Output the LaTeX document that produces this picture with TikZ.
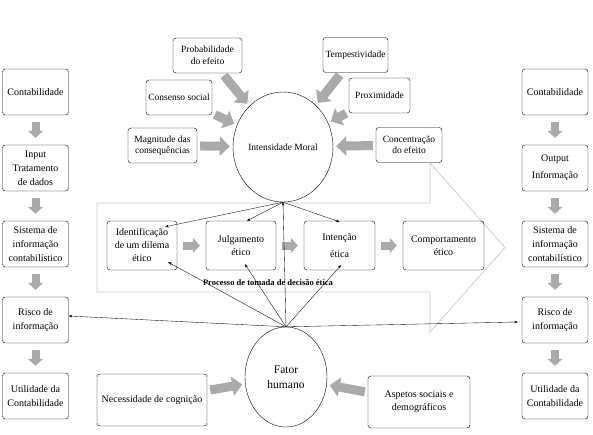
\documentclass[tikz,border=0pt]{standalone}
\usepackage{fontspec}
\setmainfont{Liberation Serif}
\usetikzlibrary{shapes.geometric,arrows.meta}
\definecolor{fatgrey}{RGB}{170,170,170}
\definecolor{frame}{RGB}{205,205,205}
\begin{document}
\begin{tikzpicture}[x=1pt, y=1pt, node distance=76pt,
  box/.style={rectangle, draw, rounded corners=3pt, align=center, minimum width=66pt, minimum height=46pt, inner sep=1pt, font=\fontsize{10}{14}\selectfont},
  top box/.style={box, minimum height=35pt, font=\fontsize{9.5}{11.5}\selectfont},
  mid box/.style={box, minimum width=70pt, minimum height=49pt, font=\fontsize{10}{13}\selectfont},
  oval/.style={ellipse, draw, inner sep=0pt, align=center},
  fat/.style={draw=fatgrey, line width=9pt, -{Triangle[length=10pt,width=19pt]}, shorten <=3pt, shorten >=3pt},
  step fat/.style={draw=fatgrey, line width=8pt, -{Triangle[length=7pt,width=15pt]}, shorten <=7pt, shorten >=7pt},
  link/.style={-{Stealth[length=3.5pt,width=2.6pt]}, line width=0.35pt}]
  \useasboundingbox (0,0) rectangle (593,434);

  \draw[frame, line width=0.8pt] (97,231) -- (430,231) -- (430,271) -- (505,186.5) -- (430,102) -- (430,142) -- (97,142) -- cycle;

  \node[box] (l1) at (35.5,342) {Contabilidade};
  \node[box] (l2) [below of=l1] {Input\\Tratamento\\de dados};
  \node[box] (l3) [below of=l2] {Sistema de\\informação\\contabilístico};
  \node[box] (l4) [below of=l3] {Risco de\\informação};
  \node[box] (l5) [below of=l4] {Utilidade da\\Contabilidade};

  \node[box] (r1) at (555,342) {Contabilidade};
  \node[box] (r2) [below of=r1] {Output\\[3pt]Informação};
  \node[box] (r3) [below of=r2] {Sistema de\\informação\\contabilístico};
  \node[box] (r4) [below of=r3] {Risco de\\informação};
  \node[box] (r5) [below of=r4] {Utilidade da\\Contabilidade};

  \node[oval, minimum width=100pt, minimum height=110pt, font=\fontsize{9.5}{11}\selectfont] (moral) at (283,287) {Intensidade Moral};
  \node[top box, minimum width=69pt] (prob) at (207.5,378.5) {Probabilidade\\do efeito};
  \node[top box, minimum width=65pt] (tempo) at (355.5,379) {Tempestividade};
  \node[top box, minimum width=66pt] (cons) at (179,336.5) {Consenso social};
  \node[top box, minimum width=61pt] (prox) at (379.5,338.5) {Proximidade};
  \node[top box, minimum width=69pt] (magn) at (162.5,288.5) {Magnitude das\\consequências};
  \node[top box, minimum width=66pt] (conc) at (409,289) {Concentração\\do efeito};

  \node[mid box] (ident) at (142,188.5) {Identificação\\de um dilema\\ético};
  \node[mid box] (julg) at (241,188.5) {Julgamento\\ético};
  \node[mid box, minimum width=71pt] (inten) at (339.5,188.5) {Intenção\\[4pt]ética};
  \node[mid box, minimum width=81pt] (comp) at (443.5,188.5) {Comportamento\\ético};
  \node[font=\bfseries\fontsize{8.5}{10}\selectfont] (proc) at (268,151) {Processo de tomada de decisão ética};

  \node[oval, minimum width=82pt, minimum height=100pt, font=\fontsize{11.5}{15}\selectfont] (fator) at (286,57) {Fator\\humano};
  \node[box, minimum width=110pt, minimum height=52pt] (cogn) at (152,34) {Necessidade de cognição};
  \node[box, minimum width=102pt, minimum height=52pt, font=\fontsize{10}{13}\selectfont] (soc) at (419,32) {Aspetos sociais e\\demográficos};

  \draw[step fat] (l1) -- (l2);
  \draw[step fat] (l2) -- (l3);
  \draw[step fat] (l3) -- (l4);
  \draw[step fat] (l4) -- (l5);
  \draw[step fat] (r1) -- (r2);
  \draw[step fat] (r2) -- (r3);
  \draw[step fat] (r3) -- (r4);
  \draw[step fat] (r4) -- (r5);
  \draw[step fat, shorten <=6pt, shorten >=6pt] (ident) -- (julg);
  \draw[step fat, shorten <=6pt, shorten >=6pt] (julg) -- (inten);
  \draw[step fat, shorten <=6pt, shorten >=6pt] (inten) -- (comp);

  \draw[fat] (prob) -- (moral);
  \draw[fat] (tempo) -- (moral);
  \draw[fat] (cons) -- (moral);
  \draw[fat] (prox) -- (moral);
  \draw[fat] (magn) -- (moral);
  \draw[fat] (conc) -- (moral);
  \draw[fat] (cogn) -- (fator);
  \draw[fat] (soc) -- (fator);

  \coordinate (hub) at (fator.north);
  \coordinate (base) at (moral.south);
  \draw[link] (hub) -- (base);
  \draw[link] (hub) -- ([yshift=4pt]l4.east);
  \draw[link] (hub) -- ([xshift=-4pt,yshift=-2pt]r4.west);
  \draw[link] (hub) -- ([xshift=-9pt,yshift=8pt]ident.south east);
  \draw[link] (hub) -- ([xshift=4pt,yshift=6pt]julg.south);
  \draw[link] (hub) -- ([xshift=1.5pt,yshift=5pt]inten.south);
  \draw[link] (base) -- ([xshift=-12pt,yshift=-6pt]ident.north east);
  \draw[link] (base) -- ([xshift=6pt]julg.north);
  \draw[link] (base) -- ([yshift=-1pt]inten.north);
\end{tikzpicture}
\end{document}
